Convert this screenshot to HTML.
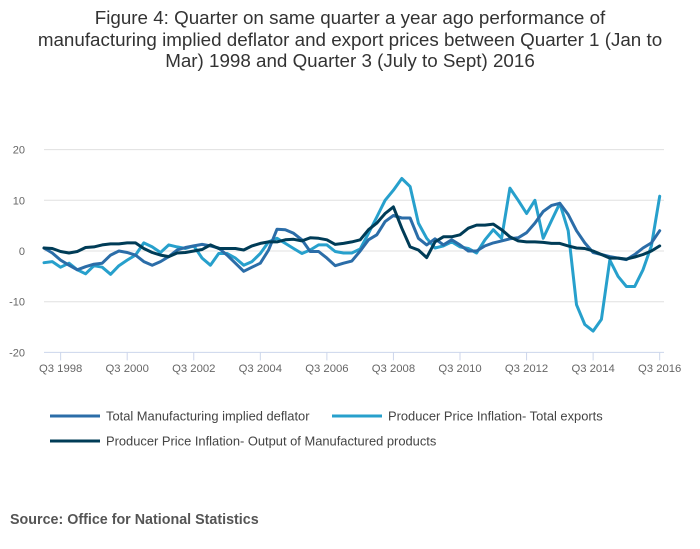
<!DOCTYPE html>
<html><head><meta charset="utf-8"><style>
body{margin:0;background:#fff;font-family:"Liberation Sans",sans-serif;}
#wrap{position:relative;width:700px;height:549px;overflow:hidden;}
#title{position:absolute;top:7px;left:0;width:700px;text-align:center;font-size:18.8px;line-height:21.5px;color:#333;}
#source{position:absolute;left:10px;top:512px;font-size:14.3px;font-weight:bold;color:#555;}
</style></head><body>
<div id="wrap">
<div id="title">Figure 4: Quarter on same quarter a year ago performance of<br>manufacturing implied deflator and export prices between Quarter 1 (Jan to<br>Mar) 1998 and Quarter 3 (July to Sept) 2016</div>
<svg id="chart" width="700" height="549" style="position:absolute;left:0;top:0"></svg>
<div id="source">Source: Office for National Statistics</div>
</div>
<script>
const yTicks=[20,10,0,-10,-20];
const xTickLabels=["Q3 1998","Q3 2000","Q3 2002","Q3 2004","Q3 2006","Q3 2008","Q3 2010","Q3 2012","Q3 2014","Q3 2016"];
const xTickIndex=[2,10,18,26,34,42,50,58,66,74];
const seriesNames=["Total Manufacturing implied deflator","Producer Price Inflation- Total exports","Producer Price Inflation- Output of Manufactured products"];
const deflator=[0.6,-0.4,-1.8,-2.8,-3.7,-3.1,-2.6,-2.4,-0.8,0,-0.3,-0.8,-2.1,-2.8,-2.1,-1.1,0.2,0.7,1,1.3,1,0.6,-0.8,-2.4,-4,-3.2,-2.4,0.2,4.3,4.2,3.5,2.2,-0.1,-0.1,-1.4,-2.9,-2.4,-2,0,2.2,3.2,5.8,7,6.5,6.5,2.5,1.2,2.4,1.2,2.2,1.2,0,0,1,1.6,2,2.4,2.6,3.6,5.5,7.8,9,9.4,7.2,4,1.6,-0.3,-0.7,-1.1,-1.4,-1.7,-0.7,0.6,1.6,4];
const exportsPPI=[-2.3,-2.1,-3.2,-2.4,-3.7,-4.5,-2.9,-3.2,-4.6,-2.9,-1.8,-0.8,1.6,0.8,-0.3,1.2,0.8,0.5,1,-1.4,-2.8,-0.5,-0.5,-1.4,-2.8,-2.1,-0.5,1.8,2.5,1.5,0.5,-0.5,0.2,1.2,1.2,-0.1,-0.4,-0.4,0.4,3.5,6.7,10,12,14.3,12.7,5.5,2.5,0.6,1,1.8,0.8,0.5,-0.4,2.2,4.2,2.5,12.4,10,7.4,10,2.5,6,9.4,4,-10.6,-14.5,-15.8,-13.5,-1.8,-5,-7,-7,-3.7,1,10.8];
const outputPPI=[0.6,0.5,-0.1,-0.4,-0.1,0.7,0.8,1.2,1.4,1.4,1.6,1.6,0.5,-0.3,-0.8,-1.1,-0.4,-0.3,0,0.3,1.2,0.5,0.5,0.5,0.2,1,1.5,1.8,1.8,2.2,2.3,2,2.6,2.5,2.2,1.3,1.5,1.8,2.2,4.2,5.5,7.4,8.7,4.5,0.8,0.2,-1.3,1.8,2.8,2.8,3.2,4.5,5.1,5.1,5.3,4.2,2.8,2,1.8,1.8,1.7,1.5,1.5,1,0.6,0.5,0,-0.7,-1.4,-1.4,-1.6,-1.2,-0.7,0,1];
const colors=["#2b6da8","#27a0cc","#003c57"];
const NS="http://www.w3.org/2000/svg";
const svg=document.getElementById('chart');
const x0=44,dx=8.32,yZero=251,pxPer=5.07;
function xs(i){return x0+dx*i;}
function ys(v){return yZero-v*pxPer;}
function mk(t,a){const e=document.createElementNS(NS,t);for(const k in a)e.setAttribute(k,a[k]);svg.appendChild(e);return e;}
yTicks.forEach(v=>{
  if(v>-20){const g=mk('line',{x1:44,x2:664,y1:ys(v),y2:ys(v),stroke:'#e0e0e0','stroke-width':1});
  
  }
  const t=mk('text',{x:25,y:ys(v)+4,'text-anchor':'end','font-size':11,fill:'#666','font-family':'Liberation Sans, sans-serif'});
  t.textContent=v;
  
  
});
const ax=mk('line',{x1:44,x2:664,y1:ys(-20),y2:ys(-20),stroke:'#ccd6eb','stroke-width':1});


xTickIndex.forEach((qi,k)=>{
  const tk=mk('line',{x1:xs(qi),x2:xs(qi),y1:ys(-20),y2:ys(-20)+8,stroke:'#ccd6eb'});
  
  
  const t=mk('text',{x:xs(qi),y:372,'text-anchor':'middle','font-size':11.3,fill:'#666','font-family':'Liberation Sans, sans-serif'});
  t.textContent=xTickLabels[k];
  
  
});
const seriesData=[deflator,exportsPPI,outputPPI];
const seriesKeys=['deflator-line','exports-line','output-line'];
[1,0,2].forEach(s=>{
  const d=seriesData[s].map((v,i)=>(i?'L':'M')+xs(i).toFixed(1)+','+ys(v).toFixed(1)).join('');
  const p=mk('path',{d:d,fill:'none',stroke:colors[s],'stroke-width':3,'stroke-linejoin':'round','stroke-linecap':'round'});
  
  
});
const legPos=[[50,416],[332,416],[50,441]];
seriesNames.forEach((n,s)=>{
  const [lx,ly]=legPos[s];
  const l=mk('line',{x1:lx,x2:lx+50,y1:ly,y2:ly,stroke:colors[s],'stroke-width':3});
  
  
  const t=mk('text',{x:lx+56,y:ly+4.5,'font-size':12.9,fill:'#444','font-family':'Liberation Sans, sans-serif'});
  t.textContent=n;
  
  
});
</script>
</body></html>
